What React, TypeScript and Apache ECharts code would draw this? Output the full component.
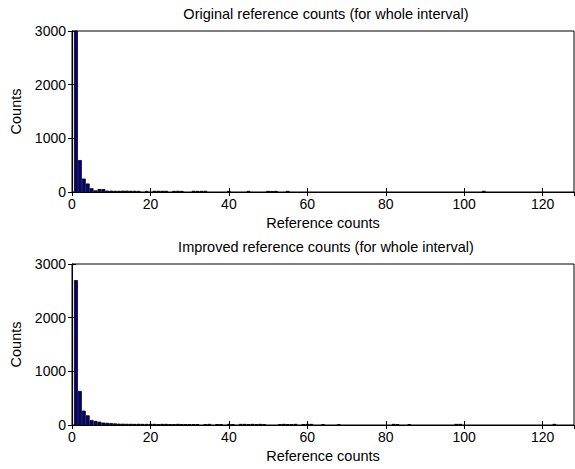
import React, { useEffect, useRef } from "react";
import * as echarts from "echarts";

const titles = [
  "Original reference counts (for whole interval)",
  "Improved reference counts (for whole interval)",
];
const xAxisName = "Reference counts";
const yAxisName = "Counts";

const originalBins = [1, 2, 3, 4, 5, 6, 7, 8, 9, 10, 11, 12, 13, 14, 15, 16, 17, 19, 21, 22, 23, 24, 26, 27, 28, 31, 32, 33, 34, 40, 45, 50, 51, 52, 55, 105];
const originalCounts = [3300, 595, 250, 158, 70, 30, 55, 55, 25, 25, 22, 22, 25, 25, 22, 22, 20, 20, 22, 22, 22, 22, 20, 22, 20, 22, 20, 20, 22, 20, 20, 20, 16, 20, 20, 22];

const improvedBins = [1, 2, 3, 4, 5, 6, 7, 8, 9, 10, 11, 12, 13, 14, 15, 16, 17, 18, 19, 20, 21, 22, 23, 24, 25, 26, 27, 28, 29, 30, 31, 32, 34, 35, 37, 38, 40, 41, 43, 44, 45, 46, 47, 48, 49, 53, 54, 55, 56, 57, 59, 60, 61, 64, 68, 82, 83, 86, 98, 99, 123];
const improvedCounts = [2700, 635, 268, 180, 93, 75, 62, 45, 40, 35, 30, 25, 24, 22, 22, 20, 22, 20, 20, 20, 20, 16, 20, 20, 16, 16, 20, 16, 16, 16, 16, 16, 16, 20, 16, 16, 20, 16, 20, 20, 16, 20, 16, 20, 16, 16, 20, 16, 16, 20, 16, 20, 20, 16, 16, 20, 16, 16, 20, 20, 20];

const xTicks = { min: 0, max: 128, interval: 20 };
const yTicks = { min: 0, max: 3000, interval: 1000 };

export default function App() {
  const ref = useRef<HTMLDivElement>(null);
  useEffect(() => {
    if (!ref.current) return;
    const chart = echarts.init(ref.current, null, { renderer: "svg" });
    const font = "'Liberation Sans', Arial, sans-serif";
    const gridLeft = 72;
    const gridWidth = 502;
    const tops = [31, 264];
    const h = 161;
    const barW = gridWidth / (xTicks.max - xTicks.min);
    const labelSize = 14;
    const textSize = 14.5;

    const grids = tops.map((t) => ({
      left: gridLeft,
      top: t,
      width: gridWidth,
      height: h,
      show: true,
      borderColor: "#000",
      borderWidth: 1,
      backgroundColor: "#fff",
    }));

    const xAxes: any[] = [];
    const yAxes: any[] = [];
    tops.forEach((_, i) => {
      xAxes.push({
        type: "value",
        gridIndex: i,
        position: "bottom",
        min: xTicks.min,
        max: xTicks.max,
        interval: xTicks.interval,
        name: xAxisName,
        nameLocation: "middle",
        nameGap: 23,
        nameTextStyle: { color: "#000", fontSize: textSize, fontFamily: font },
        axisLine: { show: true, lineStyle: { color: "#000", width: 1 } },
        axisTick: { show: true, inside: true, length: 4, lineStyle: { color: "#000" } },
        axisLabel: { color: "#000", fontSize: labelSize, fontFamily: font, margin: 5, showMaxLabel: false },
        splitLine: { show: false },
      });
      xAxes.push({
        type: "value",
        gridIndex: i,
        position: "top",
        min: xTicks.min,
        max: xTicks.max,
        interval: xTicks.interval,
        axisLine: { show: true, lineStyle: { color: "#000", width: 1 } },
        axisTick: { show: true, inside: true, length: 4, lineStyle: { color: "#000" } },
        axisLabel: { show: false },
        splitLine: { show: false },
      });
      yAxes.push({
        type: "value",
        gridIndex: i,
        position: "left",
        min: yTicks.min,
        max: yTicks.max,
        interval: yTicks.interval,
        name: yAxisName,
        nameLocation: "middle",
        nameGap: 47,
        nameRotate: 90,
        nameTextStyle: { color: "#000", fontSize: textSize, fontFamily: font },
        axisLine: { show: true, lineStyle: { color: "#000", width: 1 } },
        axisTick: { show: true, inside: true, length: 4, lineStyle: { color: "#000" } },
        axisLabel: {
          color: "#000",
          fontSize: labelSize,
          fontFamily: font,
          margin: 6,
          formatter: (v: number) => String(v),
        },
        splitLine: { show: false },
      });
      yAxes.push({
        type: "value",
        gridIndex: i,
        position: "right",
        min: yTicks.min,
        max: yTicks.max,
        interval: yTicks.interval,
        axisLine: { show: true, lineStyle: { color: "#000", width: 1 } },
        axisTick: { show: true, inside: true, length: 4, lineStyle: { color: "#000" } },
        axisLabel: { show: false },
        splitLine: { show: false },
      });
    });

    const mk = (bins: number[], counts: number[], i: number) => ({
      type: "bar",
      xAxisIndex: i * 2,
      yAxisIndex: i * 2,
      data: bins.map((b, k) => [b, counts[k]]),
      barWidth: barW,
      clip: true,
      itemStyle: { color: "#00008F", borderColor: "#000", borderWidth: 0.8 },
    });

    chart.setOption({
      animation: false,
      backgroundColor: "#fff",
      title: titles.map((t, i) => ({
        text: t,
        left: gridLeft + gridWidth / 2 - 2,
        textAlign: "center",
        top: tops[i] - 30,
        textStyle: { color: "#000", fontSize: textSize, fontWeight: "normal", fontFamily: font },
      })),
      grid: grids,
      xAxis: xAxes,
      yAxis: yAxes,
      series: [mk(originalBins, originalCounts, 0), mk(improvedBins, improvedCounts, 1)],
    });
    return () => chart.dispose();
  }, []);
  return <div ref={ref} style={{ width: 575, height: 469, position: "absolute", left: 0, top: 0 }} />;
}
